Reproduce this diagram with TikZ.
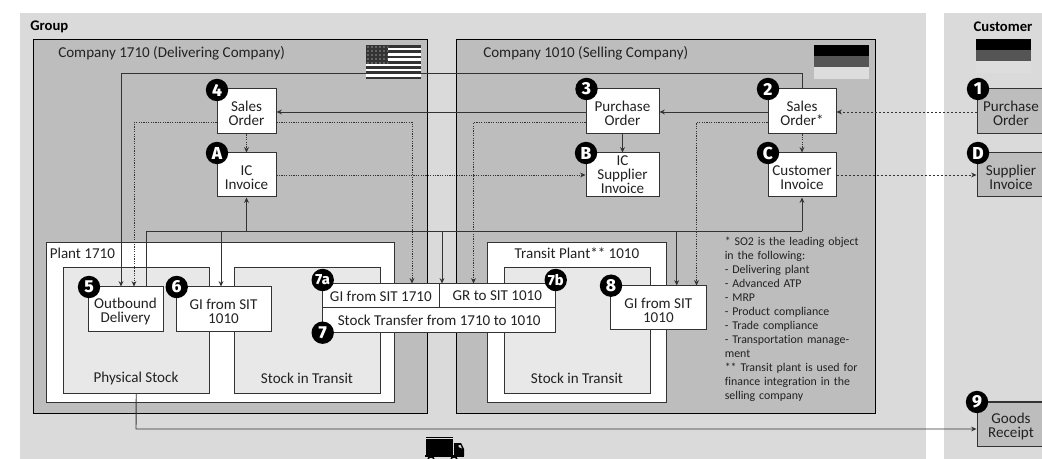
\documentclass[tikz,border=0pt]{standalone}
\usepackage{fontspec}
\setmainfont{Carlito}[Ligatures=NoCommon]
\newfontfamily\badgefont{Fira Sans}[UprightFont=* ExtraBold]
\usetikzlibrary{arrows.meta,patterns}
\definecolor{grp}{HTML}{DADADA}
\definecolor{cmp}{HTML}{BDBDBD}
\definecolor{stk}{HTML}{E8E8E8}
\definecolor{lin}{HTML}{333333}
\definecolor{txt}{HTML}{222222}
\definecolor{flagmid}{HTML}{555555}
\definecolor{flaglow}{HTML}{DDDDDD}
\newcommand{\pxbox}[7][]{\node[#1,minimum width={(#5-#3)*0.75pt},minimum height={(#6-#4)*0.75pt}] (#2) at ({(#3+#5)/2},{(#4+#6)/2}) {#7};}
\newcommand{\badge}[4]{\node[badgest] (#1) at (#2,#3) {#4};}
\newcommand{\twolines}[2]{\rule{0pt}{11pt}#1\\#2}
\tikzset{
 lbl/.style={text=txt,font=\fontsize{11.3}{10.5}\selectfont,inner sep=0pt},
 boldlbl/.style={lbl,font=\bfseries\fontsize{11}{10.6}\selectfont,text=black},
 area/.style={draw=none,inner sep=0pt},
 frame/.style={draw=black,line width=.7pt,fill=cmp,inner sep=0pt},
 plantbox/.style={draw=lin,line width=.7pt,fill=white,inner sep=0pt},
 stockbox/.style={draw=lin,line width=.7pt,fill=stk,inner sep=0pt},
 wbox/.style={draw=lin,line width=.75pt,fill=white,inner sep=0pt,align=center,text=txt,font=\fontsize{11.3}{10.5}\selectfont},
 gbox/.style={wbox,fill=cmp},
 arr/.style={draw=lin,line width=.7pt,-{Stealth[length=4pt,width=3.6pt]}},
 ln/.style={draw=lin,line width=.7pt},
 dot/.style={draw=lin,line width=.55pt,dash pattern=on .9pt off .9pt},
 darr/.style={dot,-{Stealth[length=4pt,width=3.6pt]}},
 wdot/.style={dot,dash pattern=on 1.5pt off 1.5pt},
 wdarr/.style={wdot,-{Stealth[length=4pt,width=3.6pt]}},
 badgest/.style={circle,fill=black,text=white,inner sep=0pt,minimum size=16.8pt,font=\badgefont\fontsize{13}{13}\selectfont},
}
\begin{document}
\begin{tikzpicture}[x=.75pt,y=-.75pt]
\useasboundingbox (0,0) rectangle (1042,459);
\clip (0,0) rectangle (1042,459);
% areas
\pxbox[area,fill=grp]{group}{20}{13}{926}{459}{}
\pxbox[area,fill=grp]{customer}{944}{13}{1042}{459}{}
\node[boldlbl,anchor=west] (grouplbl) at (30,26.5) {Group};
\node[boldlbl] (customerlbl) at (1003,26.5) {Customer};
% companies
\pxbox[frame]{c1710}{33.5}{39.5}{427.5}{413.5}{}
\pxbox[frame]{c1010}{456.5}{39.5}{875}{413.5}{}
\node[lbl,anchor=west] (c1710lbl) at (58,53.5) {Company 1710 (Delivering Company)};
\node[lbl,anchor=west] (c1010lbl) at (483,53.5) {Company 1010 (Selling Company)};
% plants
\pxbox[plantbox]{p1710}{46.5}{242}{394.5}{402}{}
\pxbox[plantbox]{tp1010}{487.7}{242}{666.7}{402}{}
\pxbox[stockbox]{phys}{63.5}{267}{209}{393.7}{}
\pxbox[stockbox]{sit1}{234}{267}{380}{393.7}{}
\pxbox[stockbox]{sit2}{504}{267}{650}{393.7}{}
\node[lbl,anchor=west] (p1710lbl) at (49.5,253.5) {Plant 1710};
\node[lbl] (tp1010lbl) at (577,253.5) {Transit Plant** 1010};
\node[lbl] (physlbl) at (136,378.5) {Physical Stock};
\node[lbl] (sit1lbl) at (307,378.5) {Stock in Transit};
\node[lbl] (sit2lbl) at (577,378.5) {Stock in Transit};
% boxes
\pxbox[wbox]{so4}{217}{89}{276}{134}{\twolines{Sales}{Order}}
\pxbox[wbox]{ici}{217}{153}{276}{197}{\twolines{IC}{Invoice}}
\pxbox[wbox]{po3}{586}{89}{659}{134}{\twolines{Purchase}{Order}}
\pxbox[wbox]{icsi}{586}{153}{659}{197}{IC\\Supplier\\Invoice}
\pxbox[wbox]{so2}{768}{89}{836}{134}{\twolines{Sales}{Order*}}
\pxbox[wbox]{cinv}{768}{153}{836}{197}{\twolines{Customer}{Invoice}}
\pxbox[gbox]{po1}{977}{89}{1045}{134}{\twolines{Purchase}{Order}}
\pxbox[gbox]{sinv}{977}{153}{1045}{197}{\twolines{Supplier}{Invoice}}
\pxbox[gbox]{gr}{977}{402}{1045}{446}{\twolines{Goods}{Receipt}}
\pxbox[wbox]{obd}{88}{287}{163}{332}{\twolines{Outbound}{Delivery}}
\pxbox[wbox]{gi6}{176}{287}{271}{332}{\twolines{GI from SIT}{1010}}
\pxbox[wbox]{gi8}{610.7}{286}{706}{330}{\twolines{GI from SIT}{1010}}
\pxbox[wbox]{st7}{322.7}{308}{555.7}{332.7}{Stock Transfer from 1710 to 1010}
\pxbox[wbox]{gi7a}{322.7}{284}{439}{308}{GI from SIT 1710}
\pxbox[wbox]{gr7b}{439}{284}{555.7}{308}{GR to SIT 1010}
% footnote
\node[lbl,anchor=north west,align=left,text width=150pt,font=\fontsize{8.9}{10.5}\selectfont] (note) at (724.5,237) {* SO2 is the leading object\\in the following:\\- Delivering plant\\- Advanced ATP\\- MRP\\- Product compliance\\- Trade compliance\\- Transportation manage-\\ment\\{}** Transit plant is used for\\finance integration in the\\selling company};
% connectors
\coordinate (t1) at (121,73);
\coordinate (t2) at (802,73);
\draw[arr] (so2.north) -- (t2) -- (t1) -- (t1 |- obd.north);
\draw[wdarr] (po1.west |- 0,112) -- (so2.east |- 0,112);
\draw[arr] (so2.west |- 0,112) -- (po3.east |- 0,112);
\draw[arr] (po3.west |- 0,112) -- (so4.east |- 0,112);
\draw[arr] (po3.south) -- (icsi.north);
\draw[darr] (so4.south) -- (ici.north);
\draw[darr] (so2.south) -- (cinv.north);
\draw[darr] (ici.east |- 0,175) -- (icsi.west |- 0,175);
\draw[wdarr] (cinv.east |- 0,175) -- (sinv.west |- 0,175);
\coordinate (d1) at (134,122.5);
\draw[darr] (so4.west |- d1) -- (d1) -- (d1 |- obd.north);
\coordinate (d2) at (412,122.5);
\draw[darr] (so4.east |- d2) -- (d2) -- (d2 |- gi7a.north);
\coordinate (d3) at (473.5,122.5);
\draw[darr] (po3.west |- d3) -- (d3) -- (d3 |- gr7b.north);
\coordinate (d4) at (696.5,122.5);
\draw[darr] (so2.west |- d4) -- (d4) -- (d4 |- gi8.north);
\coordinate (b1) at (146,231);
\coordinate (b2) at (802,231);
\draw[ln] (b1 |- obd.north) -- (b1) -- (b2);
\draw[arr] (b2) -- (cinv.south);
\draw[arr] (ici.south |- b1) -- (ici.south);
\coordinate (b3) at (221,231);
\draw[arr] (b3) -- (b3 |- gi6.north);
\coordinate (b4) at (442,231);
\draw[arr] (b4) -- (b4 |- gi7a.north);
\coordinate (b5) at (676.7,231);
\draw[arr] (b5) -- (b5 |- gi8.north);
\coordinate (g1) at (136,429);
\draw[arr] (phys.south) -- (g1) -- (gr.west |- g1);
% flags
\fill[white] (366,45) rectangle (421,79);
\foreach \i in {0,...,6}{\fill[lin] (366,{45+\i*5.3}) rectangle (421,{45+\i*5.3+2.65});}
\fill[lin] (366,45) rectangle (388,63.5);
\fill[pattern=dots,pattern color=white] (366,45) rectangle (388,63.5);
\fill[black] (814,45) rectangle (869,56);
\fill[flagmid] (814,56) rectangle (869,67);
\fill[flaglow] (814,67) rectangle (869,79);
\fill[black] (976,39) rectangle (1031,50);
\fill[flagmid] (976,50) rectangle (1031,61);
\fill[flaglow] (976,61) rectangle (1031,73);
% truck
\fill[black] (426,437) rectangle (453,438.4);
\fill[black] (426,439.2) rectangle (453,455);
\fill[black] (454,443) -- (461,443) -- (464,449) -- (464,456) -- (454,456) -- cycle;
\fill[grp] (458.5,445) -- (460.5,445) -- (462,448.5) -- (458.5,447) -- cycle;
\fill[black] (425,455) rectangle (464,457);
\fill[black] (431,460) circle (4);
\fill[black] (454,460) circle (4);
\fill[grp] (431,460) circle (2.2);
\fill[grp] (454,460) circle (2.2);
% badges
\badge{n4}{217}{90}{4}
\badge{na}{217}{153}{A}
\badge{n3}{586.5}{89}{3}
\badge{nb}{586}{153}{B}
\badge{n2}{768}{89}{2}
\badge{nc}{768}{153}{C}
\badge{n1}{978}{89}{1}
\badge{nd}{978}{153}{D}
\badge{n9}{977}{402}{9}
\badge{n5}{89}{287}{5}
\badge{n6}{176.7}{287}{6}
\badge{n7a}{322.7}{280}{\fontsize{11}{11}\selectfont 7a}
\badge{n7}{322.7}{332.7}{7}
\badge{n7b}{555.7}{280}{\fontsize{11}{11}\selectfont 7b}
\badge{n8}{611}{285.7}{8}
\end{tikzpicture}
\end{document}
